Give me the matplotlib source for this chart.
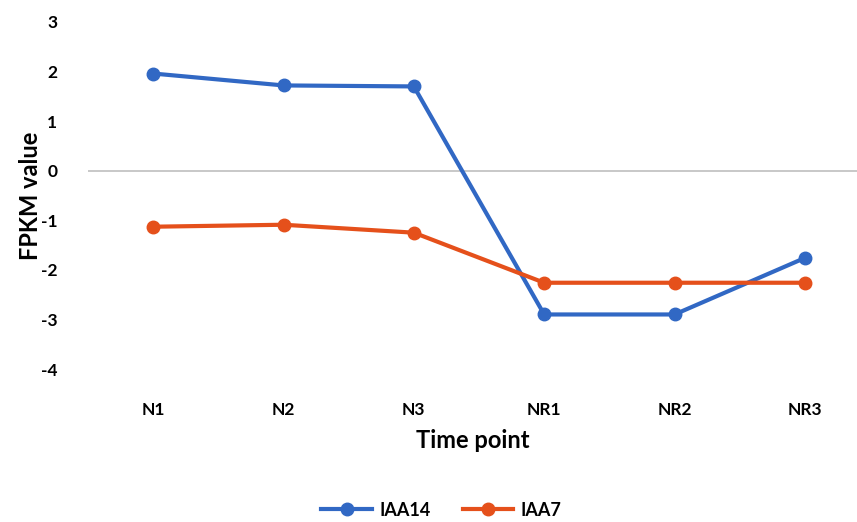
import matplotlib.pyplot as plt

# Data
time_points = ["N1", "N2", "N3", "NR1", "NR2", "NR3"]
iaa14 = [1.96, 1.72, 1.70, -2.90, -2.90, -1.76]
iaa7 = [-1.13, -1.09, -1.25, -2.26, -2.26, -2.26]

plt.rcParams['font.family'] = ['Lato', 'DejaVu Sans']
plt.rcParams['axes.unicode_minus'] = False

fig = plt.figure(figsize=(8.57, 5.22), dpi=100)
ax = fig.add_axes([0.1027, 0.2931, 0.8973, 0.6648])

x = list(range(len(time_points)))
ax.plot(x, iaa14, color='#3168C4', lw=3, marker='o', ms=9, label='IAA14')
ax.plot(x, iaa7, color='#E5501B', lw=3, marker='o', ms=9, label='IAA7')

ax.axhline(0, color='#BFBFBF', lw=1.2, zorder=0)
ax.set_ylim(-4, 3)
ax.set_xlim(-0.5, 5.4)
ax.set_yticks(range(-4, 4))
ax.set_xticks(x)
ax.set_xticklabels(time_points)

for s in ax.spines.values():
    s.set_visible(False)
ax.tick_params(length=0, labelsize=12.5)
ax.tick_params(axis='y', pad=22)
ax.tick_params(axis='x', pad=24)
for lab in ax.get_xticklabels() + ax.get_yticklabels():
    lab.set_fontweight('bold')

ax.set_ylabel("FPKM value", fontsize=17, fontweight='bold', labelpad=-1)
ax.set_xlabel("Time point", fontsize=17, fontweight='bold', labelpad=8)

fig.legend(loc='lower center', bbox_to_anchor=(0.515, -0.025), ncol=2, frameon=False,
           prop={'size': 13, 'weight': 'bold'}, handlelength=2.8, handletextpad=0.4,
           columnspacing=1.8)

fig.savefig("out.png", dpi=100)
